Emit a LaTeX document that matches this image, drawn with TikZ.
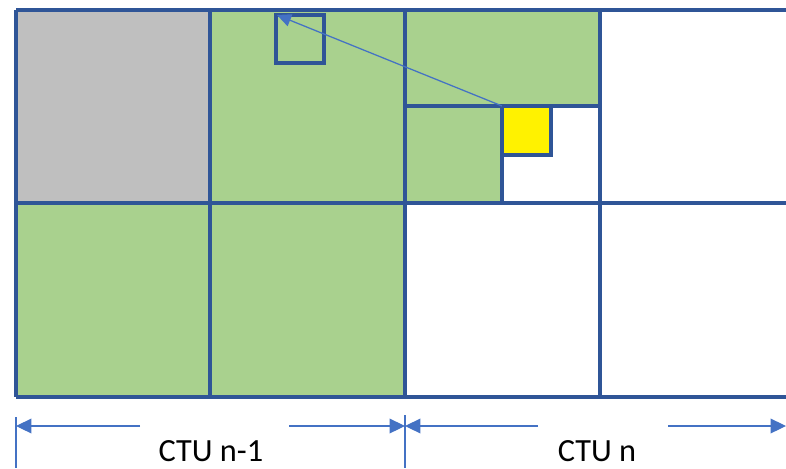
\documentclass[tikz,border=0pt]{standalone}
\usepackage{fontspec}
\setmainfont{Carlito}
\usetikzlibrary{arrows.meta}

\definecolor{gridblue}{HTML}{2F5597}
\definecolor{arrowblue}{HTML}{4472C4}
\definecolor{codedgreen}{HTML}{A9D18E}
\definecolor{unavailgray}{HTML}{BFBFBF}

\tikzset{
  gridline/.style={draw=gridblue, line width=2.6pt},
  dimline/.style={arrowblue, line width=0.8pt, -{Triangle[length=11pt,width=10.5pt]}},
  tickline/.style={arrowblue, line width=0.8pt},
  ctulabel/.style={font=\fontsize{23}{26}\selectfont, inner sep=0pt, text depth=0pt, anchor=base}
}

\begin{document}
\begin{tikzpicture}[x=0.025cm, y=-0.025cm]
  \useasboundingbox (0,0) rectangle (786,468);
  % fills
  \fill[unavailgray] (16,10) rectangle (210,203);
  \fill[codedgreen] (210,10) rectangle (405,203);
  \fill[codedgreen] (16,203) rectangle (405,397);
  \fill[codedgreen] (405,10) rectangle (600,106);
  \fill[codedgreen] (405,106) rectangle (502,203);
  % grid of the two CTUs
  \foreach \y in {10,203,397}
    \draw[gridline] (16,\y) -- (786,\y);
  \foreach \x in {16,210,405,600}
    \draw[gridline] (\x,10) -- (\x,397);
  \draw[gridline] (405,106) -- (600,106);
  \draw[gridline] (502,106) -- (502,203);
  % current block and its reference block
  \draw[gridline, fill=yellow] (502,106) rectangle (551,155);
  \draw[gridline] (276,15) rectangle (324,63);
  \coordinate (cur) at (502,106);
  \coordinate (ref) at (277,15);
  \draw[arrowblue, line width=0.9pt, -{Triangle[length=10pt,width=9pt]}] (cur) -- (ref);
  % CTU widths
  \coordinate (t0) at (16,417);
  \coordinate (t1) at (405,415);
  \draw[tickline] (t0) -- (16,468);
  \draw[tickline] (t1) -- (405,468);
  \coordinate (a0) at (140,426);
  \coordinate (a1) at (289,426);
  \coordinate (a2) at (538,426);
  \coordinate (a3) at (668,426);
  \draw[dimline] (a0) -- (t0 |- a0);
  \draw[dimline] (a1) -- (t1 |- a1);
  \draw[dimline] (a2) -- (t1 |- a2);
  \draw[dimline] (a3) -- (786,426);
  \node[ctulabel] (ctuprev) at (211,461) {CTU n-1};
  \node[ctulabel] (ctucur) at (597,461) {CTU n};
\end{tikzpicture}
\end{document}
